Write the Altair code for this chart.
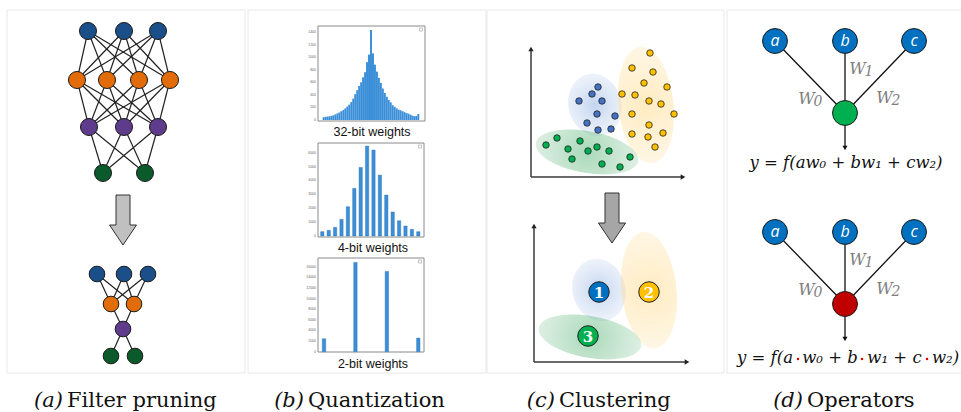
import altair as alt
import pandas as pd

W, H = 961, 412

# ---------------- data ----------------
# panel frames
panel_x0 = [7, 248, 487, 727]
panel_x1 = [245, 486, 724, 962]

# (a) filter pruning: full network layers (x positions per layer) and layer y
full_layers_x = [[88, 124, 158], [77, 107, 139, 170], [89, 124, 158], [103, 145]]
full_layers_y = [31, 80, 127, 173]
pruned_layers_x = [[97, 124, 148], [111, 134], [123], [111, 135]]
pruned_layers_y = [274, 304, 329, 356]
layer_colors = ["#1b4f8a", "#e36c0a", "#5f3b8b", "#0b5a2b"]

# (b) quantization histograms
h32_values = [45, 50, 55, 60, 65, 75, 90, 105, 120, 140, 160, 185, 215, 245, 285,
              340, 410, 475, 540, 600, 680, 760, 920, 1040, 1430, 1060, 880, 770,
              670, 590, 500, 430, 370, 320, 280, 235, 210, 185, 165, 155, 140, 125,
              110, 100, 85, 70, 60, 65, 95]
h4_values = [312, 408, 624, 1200, 2110, 3430, 4940, 6475, 6190, 4390, 2950, 1730,
             1100, 720, 480, 312]
h2_values = [2445, 16800, 15110, 2570]
h32_ticks = [0, 200, 400, 600, 800, 1000, 1200, 1400]
h4_ticks = [0, 1000, 2000, 3000, 4000, 5000, 6000]
h2_ticks = [0, 2000, 4000, 6000, 8000, 10000, 12000, 14000, 16000]
hist_titles = ["32-bit weights", "4-bit weights", "2-bit weights"]

# (c) clustering points
blue_x = [598, 592, 579, 602, 597, 615, 587, 598, 611]
blue_y = [87, 94, 101, 101, 114, 116, 123, 130, 129]
yellow_x = [650, 632, 653, 644, 667, 622, 635, 649, 661, 632, 674, 649, 632, 648, 663, 655]
yellow_y = [53, 68, 72, 83, 87, 94, 95, 101, 104, 114, 114, 125, 134, 137, 133, 147]
green_x = [557, 546, 568, 580, 597, 588, 609, 572, 602, 620, 630]
green_y = [138, 145, 149, 141, 147, 151, 151, 159, 164, 167, 157]
cluster_labels = ["1", "2", "3"]
cluster_x = [599, 649, 588]
cluster_y = [292, 292, 336]
cluster_colors = ["#0070c0", "#ffc000", "#00b050"]

# (d) operators
op_inputs = ["a", "b", "c"]
op_input_x = [775, 845, 914]
op_rows_y = [41, 232]
op_center_y = [113, 304]
op_center_colors = ["#00b050", "#c00000"]
formula_top = "y = f(aw\u2080 + bw\u2081 + cw\u2082)"
formula_bottom_parts = ["y = f(a", "w\u2080 + b", "w\u2081 + c", "w\u2082)"]
formula_dots_x = [798, 862, 927]

# captions
cap_tags = ["(a)", "(b)", "(c)", "(d)"]
cap_names = ["Filter pruning", "Quantization", "Clustering", "Operators"]
cap_split = [65, 306, 557, 805]


# ---------------- helpers ----------------
def xs(field="x", dom=(0, W), rng=(0, W)):
    return alt.X(f"{field}:Q", scale=alt.Scale(domain=list(dom), range=list(rng), nice=False, zero=False), axis=None)


def ys(field="y", dom=(0, H), rng=(0, H)):
    return alt.Y(f"{field}:Q", scale=alt.Scale(domain=list(dom), range=list(rng), nice=False, zero=False), axis=None)


layers = []

# panel frames
panels_df = pd.DataFrame({"x0": panel_x0, "x1": panel_x1, "y0": [10] * 4, "y1": [373] * 4})
layers.append(alt.Chart(panels_df).mark_rect(fill="white", stroke="#e8e8e8", strokeWidth=1).encode(
    x=xs("x0"), x2=alt.X2("x1"), y=ys("y0"), y2=alt.Y2("y1")))

# ---------------- (a) ----------------
def net_frames(lx, ly, colors):
    nodes, edges = [], []
    for li, (xsl, yy) in enumerate(zip(lx, ly)):
        for xx in xsl:
            nodes.append({"x": xx, "y": yy, "col": colors[li]})
        if li + 1 < len(lx):
            for xa in xsl:
                for xb in lx[li + 1]:
                    edges.append({"x": xa, "y": yy, "x2": xb, "y2": ly[li + 1]})
    return pd.DataFrame(nodes), pd.DataFrame(edges)


for lx, ly, sz in [(full_layers_x, full_layers_y, 290), (pruned_layers_x, pruned_layers_y, 245)]:
    nd, ed = net_frames(lx, ly, layer_colors)
    layers.append(alt.Chart(ed).mark_rule(color="#222", strokeWidth=1.2).encode(
        x=xs("x"), x2=alt.X2("x2"), y=ys("y"), y2=alt.Y2("y2")))
    layers.append(alt.Chart(nd).mark_circle(size=sz, opacity=1, stroke="#1a1a1a", strokeWidth=1).encode(
        x=xs("x"), y=ys("y"), fill=alt.Fill("col:N", scale=None)))

ARROW = "M -0.28 -1 L 0.28 -1 L 0.28 0.2 L 0.54 0.2 L 0 1 L -0.54 0.2 L -0.28 0.2 Z"
arrows_df = pd.DataFrame({"x": [123, 612], "y": [220, 218], "col": ["#c0c0c0", "#a6a6a6"]})
layers.append(alt.Chart(arrows_df).mark_point(shape=ARROW, filled=True, size=2500, opacity=1,
                                              stroke="#333", strokeWidth=1).encode(
    x=xs("x"), y=ys("y"), fill=alt.Fill("col:N", scale=None)))

# ---------------- (b) ----------------
hist_frames = pd.DataFrame({"x0": [318, 318, 318], "x1": [425, 424, 424],
                            "y0": [26, 143, 258], "y1": [121, 237, 352]})
layers.append(alt.Chart(hist_frames).mark_rect(fill="white", stroke="#8a8a8a", strokeWidth=1).encode(
    x=xs("x0"), x2=alt.X2("x1"), y=ys("y0"), y2=alt.Y2("y1")))
icon_df = pd.DataFrame({"x0": [419.5, 418.5, 418.5], "x1": [422.5, 421.5, 421.5],
                        "y0": [28, 145, 260], "y1": [31, 148, 263]})
layers.append(alt.Chart(icon_df).mark_rect(fill="white", stroke="#aaa", strokeWidth=0.7).encode(
    x=xs("x0"), x2=alt.X2("x1"), y=ys("y0"), y2=alt.Y2("y1")))

BAR = "#3a8fd8"
h32_df = pd.DataFrame({"b0": list(range(len(h32_values))), "b1": [i + 1 for i in range(len(h32_values))],
                       "v": h32_values, "z": [0] * len(h32_values)})
layers.append(alt.Chart(h32_df).mark_rect(color=BAR).encode(
    x=xs("b0", (0, len(h32_values)), (322.7, 419.3)), x2=alt.X2("b1"),
    y=ys("v", (0, 1400), (120, 32)), y2=alt.Y2("z")))
t32 = pd.DataFrame({"v": h32_ticks, "t": [str(v) for v in h32_ticks], "x": [316] * len(h32_ticks)})
layers.append(alt.Chart(t32).mark_text(align="right", baseline="middle", fontSize=3.5, color="#666").encode(
    x=xs("x"), y=ys("v", (0, 1400), (120, 32)), text="t:N"))

h4_df = pd.DataFrame({"i": list(range(1, len(h4_values) + 1)), "v": h4_values, "z": [0] * len(h4_values)})
h4_df["i0"] = h4_df["i"] - 0.26
h4_df["i1"] = h4_df["i"] + 0.26
layers.append(alt.Chart(h4_df).mark_rect(color=BAR, stroke="#2a6fb0", strokeWidth=0.4).encode(
    x=xs("i0", (1, 16), (322.3, 418.3)), x2=alt.X2("i1"),
    y=ys("v", (0, 6000), (236, 152.7)), y2=alt.Y2("z")))
t4 = pd.DataFrame({"v": h4_ticks, "t": [str(v) for v in h4_ticks], "x": [316] * len(h4_ticks)})
layers.append(alt.Chart(t4).mark_text(align="right", baseline="middle", fontSize=3.5, color="#666").encode(
    x=xs("x"), y=ys("v", (0, 6000), (236, 152.7)), text="t:N"))

h2_df = pd.DataFrame({"i": list(range(1, len(h2_values) + 1)), "v": h2_values, "z": [0] * len(h2_values)})
h2_df["i0"] = h2_df["i"] - 0.055
h2_df["i1"] = h2_df["i"] + 0.055
layers.append(alt.Chart(h2_df).mark_rect(color=BAR, stroke="#2a6fb0", strokeWidth=0.4).encode(
    x=xs("i0", (1, 4), (324, 418.3)), x2=alt.X2("i1"),
    y=ys("v", (0, 16000), (351.7, 266.7)), y2=alt.Y2("z")))
t2 = pd.DataFrame({"v": h2_ticks, "t": [str(v) for v in h2_ticks], "x": [316] * len(h2_ticks)})
layers.append(alt.Chart(t2).mark_text(align="right", baseline="middle", fontSize=3.5, color="#666").encode(
    x=xs("x"), y=ys("v", (0, 16000), (351.7, 266.7)), text="t:N"))

titles_df = pd.DataFrame({"x": [372, 373, 373], "y": [132, 248, 364], "t": hist_titles})
layers.append(alt.Chart(titles_df).mark_text(font="Liberation Sans", fontSize=12.5, color="#111",
                                             baseline="middle").encode(x=xs("x"), y=ys("y"), text="t:N"))

# ---------------- (c) ----------------
def ellipse_path(rx):
    return f"M {-rx} 0 A {rx} 1 0 1 0 {rx} 0 A {rx} 1 0 1 0 {-rx} 0 Z"


def radial(c_in, c_out):
    return {"gradient": "radial", "x1": 0.5, "y1": 0.5, "r1": 0, "x2": 0.5, "y2": 0.5, "r2": 0.5,
            "stops": [{"offset": 0, "color": c_in}, {"offset": 1, "color": c_out}]}


ell_specs = [
    # rx, size, angle, xs, ys, inner, outer
    (0.84, 63 ** 2, 345, [595, 599], [105, 290], "rgba(120,160,220,0.45)", "rgba(200,215,240,0.30)"),
    (0.47, 117 ** 2, 354, [646, 649], [105, 290], "rgba(255,205,100,0.40)", "rgba(253,232,180,0.35)"),
    (0.40, 104 ** 2, 100, [587, 590], [152, 337], "rgba(40,160,80,0.40)", "rgba(160,210,175,0.35)"),
]
for rx, sz, ang, exs, eys, cin, cout in ell_specs:
    edf = pd.DataFrame({"x": exs, "y": eys})
    layers.append(alt.Chart(edf).mark_point(shape=ellipse_path(rx), filled=True, size=sz, angle=ang,
                                            opacity=1, fill=radial(cin, cout), strokeWidth=0).encode(
        x=xs("x"), y=ys("y")))

axes_df = pd.DataFrame({"x": [531, 531, 534, 534], "y": [50, 177, 227, 362],
                        "x2": [531, 681, 534, 685], "y2": [177, 177, 362, 362]})
layers.append(alt.Chart(axes_df).mark_rule(color="#3a3a3a", strokeWidth=1.5).encode(
    x=xs("x"), x2=alt.X2("x2"), y=ys("y"), y2=alt.Y2("y2")))
up_df = pd.DataFrame({"x": [531, 534], "y": [49, 226]})
layers.append(alt.Chart(up_df).mark_point(shape="triangle-up", filled=True, size=28, opacity=1, color="#222").encode(
    x=xs("x"), y=ys("y")))
right_df = pd.DataFrame({"x": [683, 687], "y": [177, 362]})
layers.append(alt.Chart(right_df).mark_point(shape="triangle-right", filled=True, size=28, opacity=1, color="#222").encode(
    x=xs("x"), y=ys("y")))

pts = pd.DataFrame({
    "x": blue_x + yellow_x + green_x,
    "y": blue_y + yellow_y + green_y,
    "col": ["#4472c4"] * len(blue_x) + ["#ffc000"] * len(yellow_x) + ["#00b050"] * len(green_x)})
layers.append(alt.Chart(pts).mark_circle(size=42, opacity=1, stroke="#222", strokeWidth=0.8).encode(
    x=xs("x"), y=ys("y"), fill=alt.Fill("col:N", scale=None)))

cl_df = pd.DataFrame({"x": cluster_x, "y": cluster_y, "t": cluster_labels, "col": cluster_colors})
layers.append(alt.Chart(cl_df).mark_circle(size=420, opacity=1, stroke="#222", strokeWidth=1).encode(
    x=xs("x"), y=ys("y"), fill=alt.Fill("col:N", scale=None)))
layers.append(alt.Chart(cl_df).mark_text(font="DejaVu Serif", fontWeight="bold", fontSize=15, color="white",
                                         baseline="middle", dy=1).encode(
    x=xs("x"), y=ys("y"), text="t:N"))

# ---------------- (d) ----------------
op_edges, op_nodes, op_labels = [], [], []
for r in range(2):
    for lab, xx in zip(op_inputs, op_input_x):
        op_edges.append({"x": xx, "y": op_rows_y[r], "x2": 845, "y2": op_center_y[r]})
        op_nodes.append({"x": xx, "y": op_rows_y[r], "col": "#0070c0"})
        op_labels.append({"x": xx, "y": op_rows_y[r], "t": lab})
    op_nodes.append({"x": 845, "y": op_center_y[r], "col": op_center_colors[r]})
    op_edges.append({"x": 845, "y": op_center_y[r], "x2": 845, "y2": op_center_y[r] + 34})
layers.append(alt.Chart(pd.DataFrame(op_edges)).mark_rule(color="#111", strokeWidth=1.3).encode(
    x=xs("x"), x2=alt.X2("x2"), y=ys("y"), y2=alt.Y2("y2")))
down_df = pd.DataFrame({"x": [845, 845], "y": [c + 35 for c in op_center_y]})
layers.append(alt.Chart(down_df).mark_point(shape="triangle-down", filled=True, size=26, opacity=1, color="#111").encode(
    x=xs("x"), y=ys("y")))
layers.append(alt.Chart(pd.DataFrame(op_nodes)).mark_circle(size=620, opacity=1, stroke="#1a1a1a", strokeWidth=1).encode(
    x=xs("x"), y=ys("y"), fill=alt.Fill("col:N", scale=None)))
layers.append(alt.Chart(pd.DataFrame(op_labels)).mark_text(font="Open Sans", fontStyle="italic", fontSize=16,
                                                            color="white", baseline="middle").encode(
    x=xs("x"), y=ys("y"), text="t:N"))

w_x = [806.5, 857.5, 884.5]
w_y = [99, 69, 97.5]
w_sub = ["0", "1", "2"]
w_rows = []
for r in range(2):
    off = 0 if r == 0 else 191
    for wx, wy, s in zip(w_x, w_y, w_sub):
        w_rows.append({"x": wx, "y": wy + off, "t": "W", "sx": wx + 11.5, "sy": wy + off + 3, "s": s})
w_df = pd.DataFrame(w_rows)
layers.append(alt.Chart(w_df).mark_text(font="DejaVu Serif", fontStyle="italic", fontSize=16, color="#7f7f7f",
                                        baseline="middle").encode(x=xs("x"), y=ys("y"), text="t:N"))
layers.append(alt.Chart(w_df).mark_text(font="DejaVu Serif", fontStyle="italic", fontSize=14, color="#7f7f7f",
                                        baseline="middle").encode(x=xs("sx"), y=ys("sy"), text="s:N"))

f1 = pd.DataFrame({"x": [846], "y": [163], "t": [formula_top]})
layers.append(alt.Chart(f1).mark_text(font="DejaVu Serif", fontStyle="italic", fontSize=16.5, color="#111",
                                      baseline="middle").encode(x=xs("x"), y=ys("y"), text="t:N"))

FSTYLE = dict(font="DejaVu Serif", fontStyle="italic", fontSize=16.5, color="#111", baseline="middle")
seg_first = pd.DataFrame({"x": [formula_dots_x[0] - 5], "y": [358], "t": [formula_bottom_parts[0]]})
layers.append(alt.Chart(seg_first).mark_text(align="right", **FSTYLE).encode(x=xs("x"), y=ys("y"), text="t:N"))
seg_mid = pd.DataFrame({"x": [(formula_dots_x[0] + formula_dots_x[1]) / 2, (formula_dots_x[1] + formula_dots_x[2]) / 2],
                        "y": [358, 358], "t": formula_bottom_parts[1:3]})
layers.append(alt.Chart(seg_mid).mark_text(align="center", **FSTYLE).encode(x=xs("x"), y=ys("y"), text="t:N"))
seg_last = pd.DataFrame({"x": [formula_dots_x[2] + 5], "y": [358], "t": [formula_bottom_parts[3]]})
layers.append(alt.Chart(seg_last).mark_text(align="left", **FSTYLE).encode(x=xs("x"), y=ys("y"), text="t:N"))
dots = pd.DataFrame({"x": formula_dots_x, "y": [359, 359, 359]})
layers.append(alt.Chart(dots).mark_square(size=5, opacity=1, color="#e00000").encode(x=xs("x"), y=ys("y")))

# ---------------- captions ----------------
cap_df = pd.DataFrame({"x": cap_split, "y": [407] * 4, "tag": cap_tags, "name": cap_names})
layers.append(alt.Chart(cap_df).mark_text(font="DejaVu Serif", fontStyle="italic", fontSize=21, color="#111",
                                          align="right", baseline="alphabetic", dx=-2).encode(
    x=xs("x"), y=ys("y"), text="tag:N"))
layers.append(alt.Chart(cap_df).mark_text(font="DejaVu Serif", fontSize=21, color="#111",
                                          align="left", baseline="alphabetic", dx=2).encode(
    x=xs("x"), y=ys("y"), text="name:N"))

chart = alt.layer(*layers).resolve_scale(x="independent", y="independent").properties(
    width=W, height=H, padding=0, autosize=alt.AutoSizeParams(type="none"), background="white"
).configure_view(stroke=None)

chart.save("out.html", embed_options={"renderer": "svg", "actions": False})
